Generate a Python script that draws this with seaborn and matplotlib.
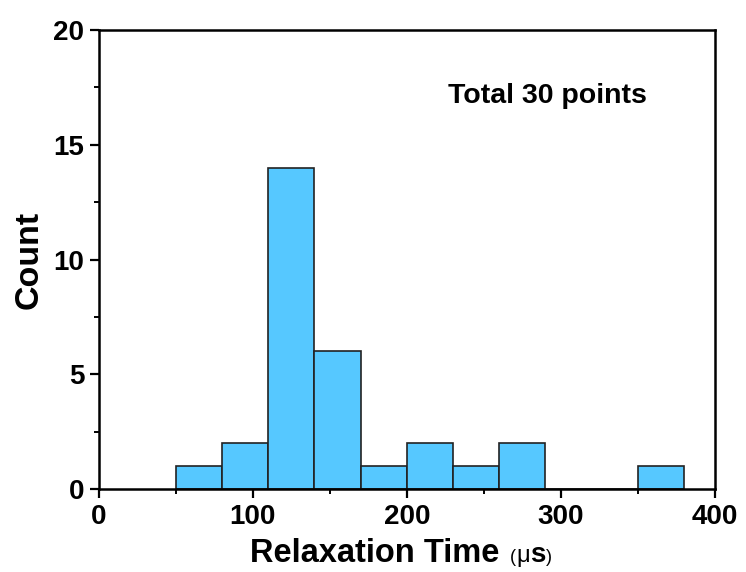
import matplotlib
matplotlib.use("Agg")
import matplotlib.pyplot as plt
from matplotlib.ticker import MultipleLocator
from matplotlib.transforms import offset_copy
import seaborn as sns

# Histogram of relaxation times (30 µs-wide bins starting at 50 µs)
bin_edges = [50, 80, 110, 140, 170, 200, 230, 260, 290, 320, 350, 380]
counts = [1, 2, 14, 6, 1, 2, 1, 2, 0, 0, 1]
x_ticks = [0, 100, 200, 300, 400]
y_ticks = [0, 5, 10, 15, 20]

centers = [(a + b) / 2 for a, b in zip(bin_edges[:-1], bin_edges[1:])]

sns.set_style("white")
plt.rcParams["font.family"] = ["Liberation Sans", "DejaVu Sans"]
plt.rcParams["text.color"] = "black"
plt.rcParams["axes.labelcolor"] = "black"
plt.rcParams["xtick.color"] = "black"
plt.rcParams["ytick.color"] = "black"

fig = plt.figure(figsize=(7.46, 5.72), dpi=100)
ax = fig.add_axes([0.1327, 0.145, 0.8253, 0.8026])

sns.histplot(x=centers, weights=counts, bins=bin_edges, ax=ax,
             color="#56C8FF", alpha=1.0, edgecolor="#222222", linewidth=1.2)

ax.set_xlim(0, 400)
ax.set_ylim(0, 20)
ax.set_xticks(x_ticks)
ax.set_yticks(y_ticks)
ax.xaxis.set_minor_locator(MultipleLocator(50))
ax.yaxis.set_minor_locator(MultipleLocator(2.5))

ax.tick_params(which="major", direction="out", length=6.5, width=1.6,
               bottom=True, left=True, top=False, right=False,
               labelsize=20, pad=4)
ax.tick_params(which="minor", direction="out", length=3.5, width=1.4,
               bottom=True, left=True, top=False, right=False)
for lab in ax.get_xticklabels() + ax.get_yticklabels():
    lab.set_fontweight("bold")

for s in ax.spines.values():
    s.set_visible(True)
    s.set_linewidth(1.8)
    s.set_color("black")

ax.set_ylabel("Count", fontsize=24.5, fontweight="bold", labelpad=6)
ax.set_xlabel("")

# x-axis title: bold name followed by a unit in mixed sizes
ax.text(0.651, -0.158, "Relaxation Time", transform=ax.transAxes,
        fontsize=23.5, fontweight="bold", ha="right", va="baseline")

renderer = fig.canvas.get_renderer()
unit_parts = [("(", 13, "normal"), ("μ", 17, "normal"),
              ("s", 20, "bold"), (")", 13, "normal")]
x_px = 0.0
for txt, size, weight in unit_parts:
    t = ax.text(0.667, -0.158, txt, fontsize=size, fontweight=weight,
                ha="left", va="baseline",
                transform=offset_copy(ax.transAxes, fig=fig, x=x_px, y=0,
                                      units="dots"))
    x_px += t.get_window_extent(renderer=renderer).width + 0.5

ax.text(0.729, 0.856, "Total 30 points", transform=ax.transAxes,
        fontsize=20.5, fontweight="bold", ha="center", va="center")

fig.savefig("out.png", dpi=100)
